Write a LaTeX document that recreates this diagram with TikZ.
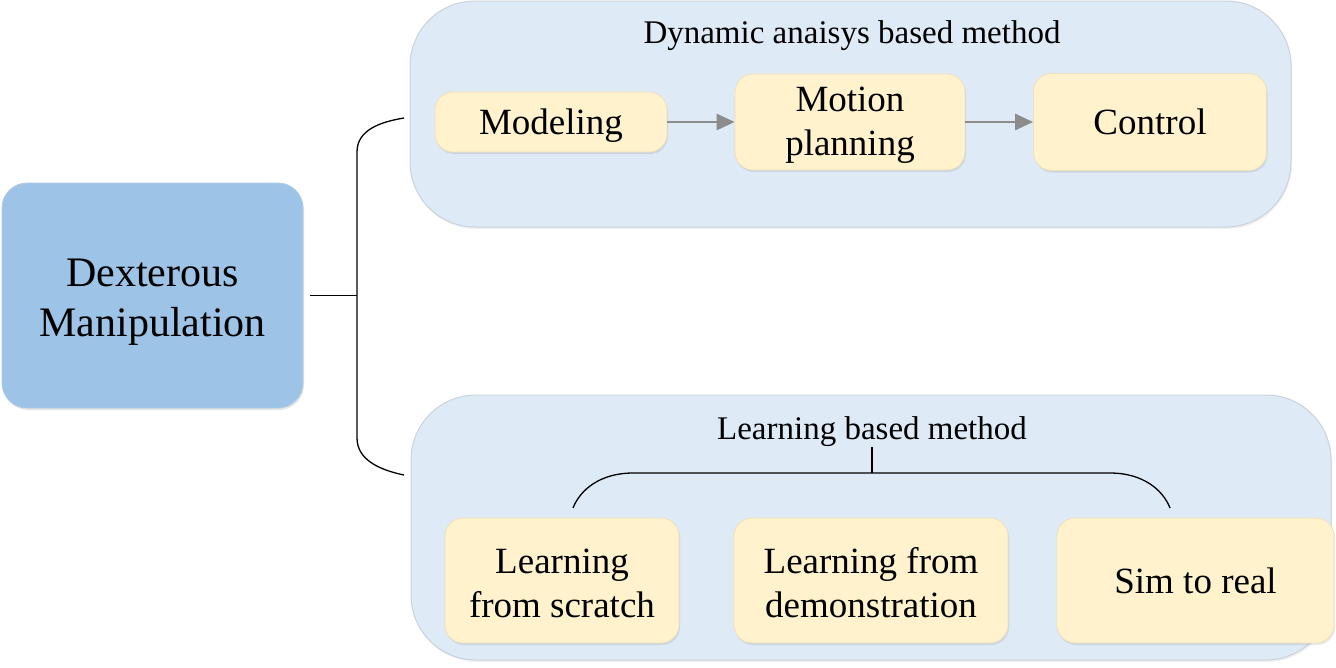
\documentclass[tikz,border=0pt]{standalone}
\usepackage{fontspec}
\setmainfont{Liberation Serif}
\usetikzlibrary{shadows,arrows.meta}
\definecolor{dmblue}{HTML}{9DC3E6}
\definecolor{dmline}{HTML}{AFCBE6}
\definecolor{panel}{HTML}{DEEAF6}
\definecolor{panelline}{HTML}{CAD3DC}
\definecolor{ybox}{HTML}{FFF2CC}
\definecolor{yline}{HTML}{EEE0BC}
\definecolor{arrowgray}{HTML}{8C8C8C}
\newcommand{\tstrut}[1]{\rule{0pt}{#1}}
\begin{document}
\begin{tikzpicture}[x=1pt,y=-1pt,
  mainbox/.style={draw=dmline, line width=0.8pt, fill=dmblue, rounded corners=25pt,
    minimum width=301pt, minimum height=225pt, inner sep=0pt, align=center,
    font=\fontsize{42}{50}\selectfont,
    drop shadow={opacity=0.2, shadow xshift=1pt, shadow yshift=-2pt}},
  panelbox/.style={draw=panelline, line width=1pt, fill=panel, rounded corners=65pt,
    inner sep=0pt,
    drop shadow={opacity=0.12, shadow xshift=1pt, shadow yshift=-2pt}},
  ybx/.style={draw=yline, line width=0.8pt, fill=ybox, rounded corners=18pt,
    inner sep=0pt, align=center, font=\fontsize{37}{44}\selectfont,
    drop shadow={opacity=0.18, shadow xshift=1pt, shadow yshift=-2pt}},
  ttl/.style={inner sep=0pt, font=\fontsize{33}{40}\selectfont},
  flow/.style={draw=arrowgray, line width=2.8pt, -{Triangle[length=18pt,width=16pt]}},
  brk/.style={draw=black, line width=1.3pt},
]
\useasboundingbox (0,0) rectangle (1336,667);

% left main box
\node[mainbox] (dm) at (152.5,295.5) {\tstrut{40.7pt}Dexterous\\Manipulation};

% top panel
\node[panelbox, minimum width=881pt, minimum height=226pt] (top) at (850.5,114) {};
\node[ttl] (t1) at (852,32) {\tstrut{30.5pt}Dynamic anaisys based method};
\node[ybx, minimum width=232pt, minimum height=60pt] (mod) at (551,122) {\tstrut{32.5pt}Modeling};
\node[ybx, minimum width=230pt, minimum height=96pt] (mot) at (850,122) {\tstrut{31pt}Motion\\planning};
\node[ybx, minimum width=233pt, minimum height=97pt] (ctl) at (1150,122) {Control};
\draw[flow] (mod) -- (mot);
\draw[flow] (mot) -- (ctl);

% bottom panel
\node[panelbox, minimum width=920pt, minimum height=265pt] (bot) at (871,527.5) {};
\node[ttl] (t2) at (872,428) {\tstrut{30.5pt}Learning based method};
\node[ybx, minimum width=234pt, minimum height=125pt] (lfs) at (562,580.5) {\tstrut{29.8pt}Learning\\from scratch};
\node[ybx, minimum width=274pt, minimum height=125pt] (lfd) at (871,580.5) {\tstrut{29.8pt}Learning from\\demonstration};
\node[ybx, minimum width=277pt, minimum height=125pt] (sim) at (1195.5,580.5) {Sim to real};

% left bracket
\coordinate (btop) at (357,152);
\coordinate (bbot) at (357,438);
\coordinate (etop) at (404,118);
\coordinate (ebot) at (404,475);
\draw[brk] ([xshift=7pt]dm.east) -- (btop |- dm.east);
\draw[brk] (etop) .. controls (380,122) and (357,130) .. (btop) -- (bbot)
  .. controls (357,460) and (380,470) .. (ebot);

% bottom bracket
\coordinate (hj) at (872,473);
\coordinate (hl) at (633,473);
\coordinate (hr) at (1110,473);
\coordinate (el) at (573,508);
\coordinate (er) at (1170,508);
\draw[brk] (t2.south) -- (hj);
\draw[brk] (el) .. controls (580,490) and (600,473) .. (hl) -- (hr)
  .. controls (1143,473) and (1163,490) .. (er);
\end{tikzpicture}
\end{document}
